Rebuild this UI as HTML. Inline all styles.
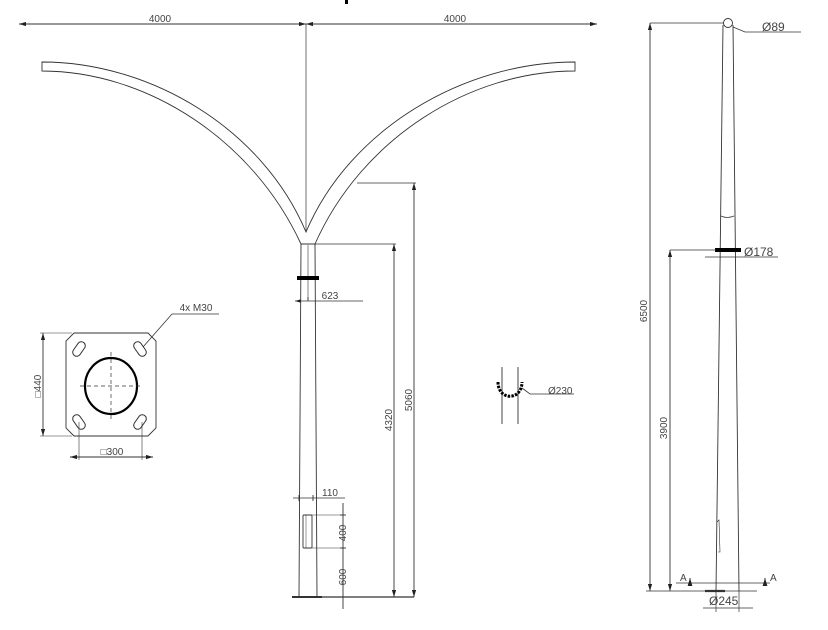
<!DOCTYPE html>
<html><head><meta charset="utf-8"><style>
html,body{margin:0;padding:0;background:#fff}
svg{display:block}
text{font-family:"Liberation Sans",sans-serif;fill:#444}
</style></head><body>
<svg width="828" height="630" viewBox="0 0 828 630" xmlns="http://www.w3.org/2000/svg">
<defs>
<marker id="a" viewBox="0 0 10 6" refX="10" refY="3" markerWidth="8" markerHeight="5" orient="auto-start-reverse"><path d="M0,0 L10,3 L0,6z" fill="#222"/></marker>
</defs>
<g stroke="#333" stroke-width="0.9" fill="none">
<rect x="345" y="0" width="3" height="4" fill="#000" stroke="none"/>
<line x1="19" y1="24" x2="306" y2="24" marker-start="url(#a)" marker-end="url(#a)"/>
<line x1="306" y1="24" x2="597" y2="24" marker-start="url(#a)" marker-end="url(#a)"/>
<line x1="306" y1="24" x2="306" y2="232" stroke-width="0.7"/>
<!-- arms -->
<path d="M42,71 L42,62 C150,62 262,128 306,232 C350,128 465,62 575,62 L575,71 C470,71 362,138 315,244 L301,244 C252,138 145,71 42,71Z"/>
<!-- pole left -->
<path d="M301,244 L299,597 M315,244 L317,597"/>
<line x1="308" y1="245" x2="308" y2="300" stroke-width="0.6"/>
<rect x="297" y="276" width="22" height="4" fill="#000" stroke="none"/>
<line x1="295" y1="301" x2="363" y2="301" marker-start="url(#a)" stroke-width="0.7"/>
<line x1="308" y1="301" x2="308" y2="297" />
<line x1="315" y1="244" x2="396" y2="244" stroke-width="0.7"/>
<line x1="394" y1="244" x2="394" y2="597" marker-start="url(#a)" marker-end="url(#a)"/>
<line x1="357" y1="183" x2="416" y2="183" stroke-width="0.7"/>
<line x1="414" y1="183" x2="414" y2="597" marker-start="url(#a)" marker-end="url(#a)"/>
<line x1="317" y1="597" x2="414" y2="597" stroke-width="1.2"/>
<line x1="292" y1="597" x2="322" y2="597" stroke-width="2"/>
<line x1="293" y1="498" x2="345" y2="498" stroke-width="0.7"/>
<line x1="299" y1="495" x2="299" y2="501"/>
<line x1="313" y1="495" x2="313" y2="501"/>
<rect x="303" y="515" width="9" height="33" rx="1"/>
<line x1="306" y1="515" x2="306" y2="548" stroke-width="0.5"/>
<line x1="312" y1="515" x2="345" y2="515" stroke-width="0.6"/>
<line x1="312" y1="548" x2="345" y2="548" stroke-width="0.6"/>
<line x1="343" y1="503" x2="343" y2="609"/>
<line x1="340" y1="515" x2="346" y2="515"/>
<line x1="340" y1="548" x2="346" y2="548"/>
<!-- flange -->
<path d="M74,333 L148,333 L156,341 L156,428 L148,436 L74,436 L66,428 L66,341Z"/>
<ellipse cx="111" cy="386" rx="26" ry="28" stroke="#000" stroke-width="2.2"/>
<path d="M80,386 L142,386 M111,352 L111,420" stroke-dasharray="4,3" stroke-width="0.7"/>
<g stroke-width="1">
<rect x="75" y="341" width="8" height="16" rx="4" transform="rotate(35 79 349)"/>
<rect x="136" y="341" width="8" height="16" rx="4" transform="rotate(-35 140 349)"/>
<rect x="75" y="414" width="8" height="16" rx="4" transform="rotate(-35 79 422)"/>
<rect x="136" y="414" width="8" height="16" rx="4" transform="rotate(35 140 422)"/>
</g>
<line x1="43" y1="333" x2="43" y2="436" marker-start="url(#a)" marker-end="url(#a)"/>
<line x1="40" y1="333" x2="72" y2="333" stroke-width="0.6"/>
<line x1="40" y1="436" x2="72" y2="436" stroke-width="0.6"/>
<line x1="79" y1="422" x2="79" y2="460" stroke-width="0.6"/>
<line x1="142" y1="422" x2="142" y2="460" stroke-width="0.6"/>
<line x1="70" y1="457" x2="153" y2="457" marker-start="url(#a)" marker-end="url(#a)"/>
<path d="M143,347 L172,314 L219,314" stroke-width="0.8"/>
<!-- ring detail -->
<path d="M502,367 L502,424 M518,367 L518,424"/>
<path d="M498,382 C498,401 522,401 522,382" stroke="#000" stroke-width="3" stroke-dasharray="2.5,1.2"/>
<path d="M522,388 L530,394 L574,394" stroke-width="0.8"/>
<!-- right pole -->
<circle cx="728" cy="23" r="4.5"/>
<path d="M723,25 L716,591 M733,25 L739,591"/>
<path d="M721,216 Q727,219 734,216" stroke-width="0.7"/>
<rect x="715" y="248" width="26" height="4" fill="#000" stroke="none"/>
<line x1="705" y1="257" x2="778" y2="257" stroke-width="0.7"/>
<line x1="650" y1="23" x2="724" y2="23" stroke-width="0.7"/>
<line x1="650" y1="23" x2="650" y2="591" marker-start="url(#a)" marker-end="url(#a)"/>
<line x1="670" y1="250" x2="716" y2="250" stroke-width="0.7"/>
<line x1="670" y1="250" x2="670" y2="591" marker-start="url(#a)" marker-end="url(#a)"/>
<line x1="646" y1="591" x2="757" y2="591" stroke-width="0.8"/>
<line x1="705" y1="591" x2="725" y2="591" stroke-width="2.2"/>
<line x1="676" y1="583" x2="770" y2="583" stroke-width="0.7"/>
<line x1="690" y1="578" x2="690" y2="584" marker-start="url(#a)" stroke-width="1"/>
<line x1="765" y1="578" x2="765" y2="584" marker-start="url(#a)" stroke-width="1"/>
<path d="M733,27 L745,32 L801,32" stroke-width="0.8"/>
<line x1="703" y1="608" x2="753" y2="608" stroke-width="0.7"/>
<line x1="716" y1="591" x2="716" y2="612" stroke-width="0.7"/>
<line x1="739" y1="591" x2="739" y2="612" stroke-width="0.7"/>
<path d="M718,552 L720,552 L719,520 L717,522" stroke-width="0.6"/>
</g>
<g font-size="10">
<text x="160" y="22" text-anchor="middle">4000</text>
<text x="455" y="22" text-anchor="middle">4000</text>
<text x="330" y="299" text-anchor="middle">623</text>
<text x="330" y="496" text-anchor="middle">110</text>
<text transform="translate(392,420) rotate(-90)" text-anchor="middle">4320</text>
<text transform="translate(412,400) rotate(-90)" text-anchor="middle">5060</text>
<text transform="translate(346,533) rotate(-90)" text-anchor="middle">400</text>
<text transform="translate(346,577) rotate(-90)" text-anchor="middle">600</text>
<text transform="translate(41,386) rotate(-90)" text-anchor="middle">□440</text>
<text x="112" y="455" text-anchor="middle">□300</text>
<text x="196" y="311" text-anchor="middle">4x M30</text>
<text x="548" y="394">Ø230</text>
<text transform="translate(647,311) rotate(-90)" text-anchor="middle">6500</text>
<text transform="translate(667,428) rotate(-90)" text-anchor="middle">3900</text>
<text x="680" y="581">A</text>
<text x="770" y="581">A</text>
</g>
<g font-size="12">
<text x="762" y="31">Ø89</text>
<text x="744" y="256">Ø178</text>
<text x="709" y="605">Ø245</text>
</g>
</svg>
</body></html>
